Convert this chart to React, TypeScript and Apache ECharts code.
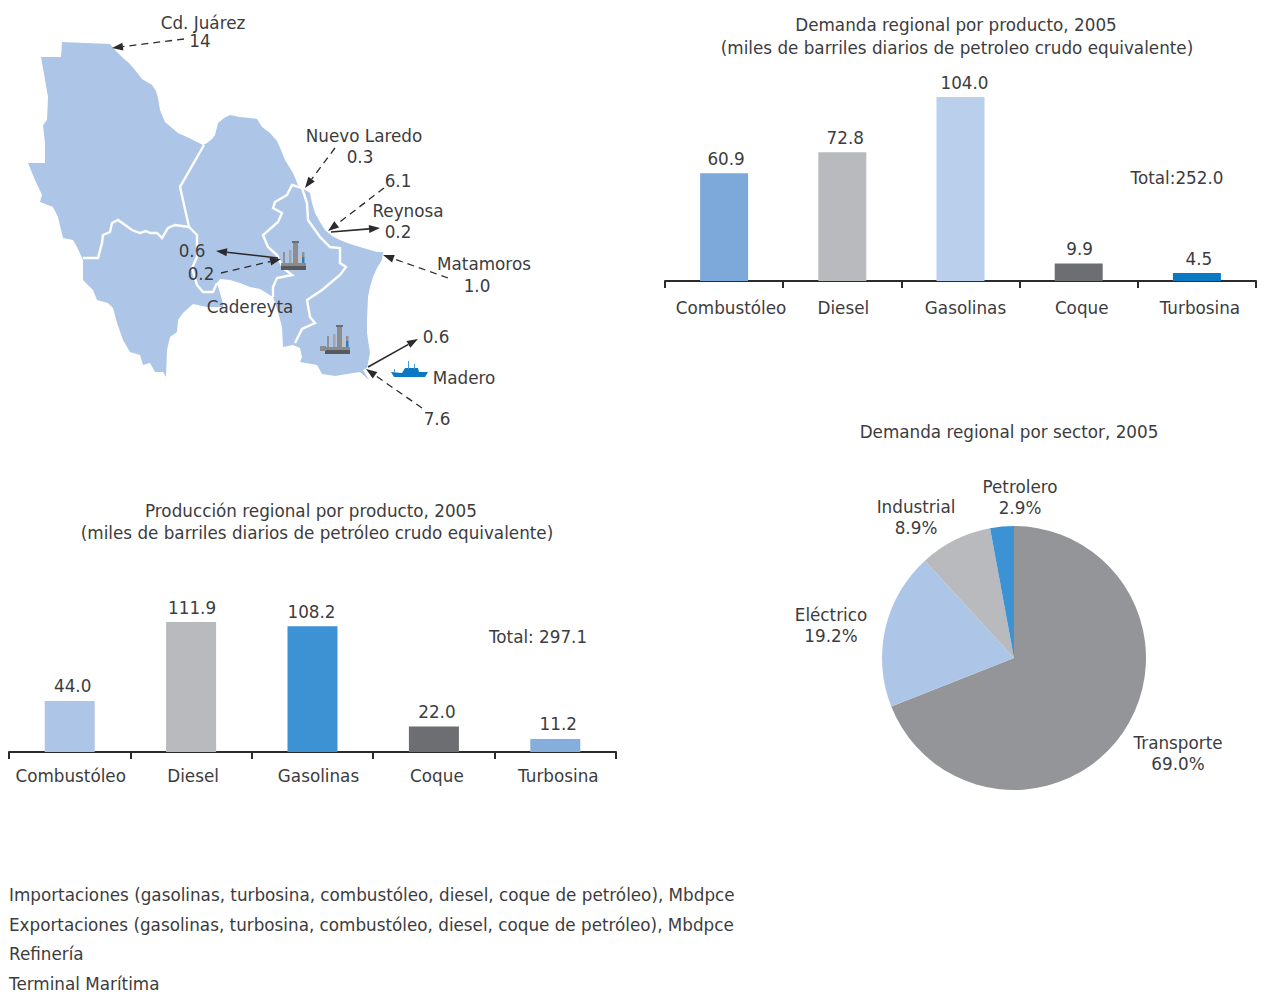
import React, { useEffect, useRef } from "react";
import * as echarts from "echarts";

const FONT = "DejaVu Sans";
const TEXT = "#3c3c3e";
const FS = 16.8;

const products = ["Combustóleo", "Diesel", "Gasolinas", "Coque", "Turbosina"];
const demandValues = [60.9, 72.8, 104.0, 9.9, 4.5];
const demandColors = ["#7da9da", "#b9babe", "#b9cfeb", "#6d6e71", "#0a78c2"];
const productionValues = [44.0, 111.9, 108.2, 22.0, 11.2];
const productionColors = ["#adc6e8", "#b9babe", "#3c92d2", "#6d6e71", "#86aedc"];
const sectors = ["Transporte", "Eléctrico", "Industrial", "Petrolero"];
const sectorValues = [69.0, 19.2, 8.9, 2.9];
const sectorColors = ["#949598", "#adc6e8", "#b9babe", "#3c92d2"];
const legendLines = [
  "Importaciones (gasolinas, turbosina, combustóleo, diesel, coque de petróleo), Mbdpce",
  "Exportaciones (gasolinas, turbosina, combustóleo, diesel, coque de petróleo), Mbdpce",
  "Refinería",
  "Terminal Marítima",
];

const mapOutline = [[62,42],[110,44],[115,50],[123,58],[129,63],[135,70],[142,79],[147,82],[152,85],[156,91],[158,98],[160,110],[165,122],[171,127],[178,133],[187,137],[203,145],[207,143],[212,139],[215,135],[218,123],[224,118],[230,115],[240,117],[250,118],[257,119],[262,127],[270,133],[277,141],[281,150],[285,160],[293,173],[298,185],[302,188],[310,193],[312,203],[315,213],[320,222],[325,230],[332,236],[340,240],[350,244],[360,247],[377,252],[383,252],[382,260],[377,268],[373,277],[370,287],[368,297],[367,320],[367,333],[370,353],[367,368],[363,370],[369,380],[360,372],[347,374],[335,376],[322,374],[317,365],[300,362],[302,357],[300,348],[293,345],[283,347],[282,327],[278,312],[273,297],[260,289],[250,287],[240,283],[230,280],[220,279],[217,283],[223,303],[223,307],[207,307],[193,304],[183,313],[178,320],[177,332],[170,337],[167,350],[166,377],[163,372],[155,372],[150,363],[143,365],[140,355],[130,352],[123,340],[117,323],[113,308],[108,303],[97,300],[93,290],[83,280],[83,260],[77,247],[73,240],[63,238],[58,217],[53,207],[40,202],[42,195],[35,180],[28,163],[45,163],[45,143],[43,125],[47,120],[48,97],[41,57],[61,57]];
const mapBorders = [
  [[204,145],[180,187],[189,227],[197,235],[197,257],[192,268],[197,285],[203,292],[213,292],[217,283]],
  [[189,227],[175,225],[168,228],[162,238],[157,233],[150,233],[146,231],[140,233],[132,230],[118,220],[112,223],[110,232],[103,235],[102,243],[98,258],[83,258]],
  [[302,188],[292,185],[287,195],[275,202],[273,208],[282,213],[278,222],[263,235],[268,247],[277,255],[283,268],[292,275],[277,278],[273,287],[273,297]],
  [[302,188],[307,203],[308,220],[320,237],[330,247],[340,248],[340,263],[346,267],[340,275],[322,290],[307,300],[310,317],[315,323],[302,329],[295,343]],
];
const arrows = [
  [184,39,112,48,1],[335,148,305,188,1],[384,188,328,231,1],[331,232,380,228,0],[448,278,383,255,1],
  [278,258,216,251,0],[221,273,281,259,1],[368,367,418,339,0],[422,408,366,369,1],
];
const mapLabels: [string, number, number][] = [
  ["Cd. Juárez",203,23],["14",200,41],["Nuevo Laredo",364,136],["0.3",360,157],["6.1",398,181],["Reynosa",408,211],["0.2",398,232],
  ["Matamoros",484,264],["1.0",477,286],["0.6",192,251],["0.2",201,274],["Cadereyta",250,307],["0.6",436,337],["Madero",464,378],["7.6",437,419],
];

function text(s: string, x: number, y: number, align = "center") {
  return { type: "text", x, y, silent: true, style: { text: s, fill: TEXT, font: `${FS}px "${FONT}"`, align, verticalAlign: "middle" } };
}
function rect(x: number, y: number, w: number, h: number, fill: string) {
  return { type: "rect", shape: { x, y, width: w, height: h }, style: { fill }, silent: true };
}
function arrow([x1, y1, x2, y2, dashed]: number[]) {
  const a = Math.atan2(y2 - y1, x2 - x1);
  const L = 11, W = 4;
  const bx = x2 - L * Math.cos(a), by = y2 - L * Math.sin(a);
  const nx = -Math.sin(a) * W, ny = Math.cos(a) * W;
  return [
    { type: "line", silent: true, shape: { x1, y1, x2: bx, y2: by }, style: { stroke: "#2b2b2d", lineWidth: dashed ? 1.3 : 1.6, lineDash: dashed ? [7, 5] : undefined } },
    { type: "polygon", silent: true, shape: { points: [[x2, y2], [bx + nx, by + ny], [bx - nx, by - ny]] }, style: { fill: "#2b2b2d" } },
  ];
}
function refinery(dx: number, dy: number, extra: boolean) {
  const out: any[] = [
    rect(283 + dx, 252 + dy, 2, 12, "#8f9094"),
    rect(289 + dx, 250 + dy, 2.5, 14, "#a3a4a8"),
    rect(293 + dx, 242 + dy, 5, 22, "#8c8d91"),
    rect(292 + dx, 241 + dy, 7, 2, "#6d6e71"),
    rect(298 + dx, 255 + dy, 4, 9, "#c3c4c7"),
    rect(302 + dx, 252 + dy, 2.5, 5, "#8f9094"),
    rect(302 + dx, 257 + dy, 2.5, 7, "#2a7fc0"),
    rect(281 + dx, 263 + dy, 25, 3, "#8a8b8e"),
    rect(281 + dx, 266 + dy, 25, 4, "#58595b"),
  ];
  if (extra) out.push(rect(276 + dx, 262 + dy, 6, 5, "#8a8b8e"));
  return out;
}

const shipFill = "#0a78c2";
const ship = [
  { type: "polygon", silent: true, shape: { points: [[391,372],[402,373],[405,368],[418,368],[419,372],[428,372],[425,377],[394,377]] }, style: { fill: shipFill } },
  rect(408, 361, 1, 8, "#4a9bd3"),
  rect(414, 364, 1, 5, "#4a9bd3"),
  rect(394, 369, 1, 4, "#4a9bd3"),
];

function barSeries(values: number[], colors: string[], idx: number, offsets: number[], width: number) {
  return {
    type: "bar", xAxisIndex: idx, yAxisIndex: idx, barWidth: width, silent: true,
    data: values.map((v, i) => ({
      value: v,
      itemStyle: { color: colors[i] },
      label: { offset: [offsets[i], 0] },
    })),
    label: { show: true, position: "top", distance: 6, color: TEXT, fontFamily: FONT, fontSize: FS, formatter: (p: any) => p.value.toFixed(1) },
  };
}
function catAxis(idx: number, pads: number[], margin: number) {
  return {
    type: "category", gridIndex: idx,
    data: products.map((p, i) => ({ value: p, textStyle: { padding: [0, 0, 0, pads[i]] } })),
    boundaryGap: true,
    axisLine: { lineStyle: { color: "#2b2b2d", width: 2 } },
    axisTick: { show: true, alignWithLabel: false, length: 7, lineStyle: { color: "#2b2b2d", width: 2 } },
    axisLabel: { color: TEXT, fontFamily: FONT, fontSize: FS, margin, interval: 0 },
  };
}
const valAxis = (idx: number, max: number) => ({ type: "value", gridIndex: idx, min: 0, max, show: false });

export default function App() {
  const ref = useRef<HTMLDivElement>(null);
  useEffect(() => {
    const chart = echarts.init(ref.current!, undefined, { renderer: "svg" });
    const labelPos = [[1178, 753], [831, 625], [916, 517], [1020, 497]];
    chart.setOption({
      animation: false,
      backgroundColor: "#fff",
      grid: [
        { left: 665, top: 97, width: 591, height: 184 },
        { left: 9, top: 622, width: 607, height: 130 },
      ],
      xAxis: [catAxis(0, [14, 2, 10, 6, 6], 18), catAxis(1, [2, 4, 12, 6, 6], 15)],
      yAxis: [valAxis(0, 104), valAxis(1, 111.9)],
      series: [
        barSeries(demandValues, demandColors, 0, [2, 3, 4, 1, 2], 48),
        barSeries(productionValues, productionColors, 1, [3, 1, -1, 3, 3], 50),
        {
          type: "pie", center: [1014, 658], radius: [0, 132], startAngle: 90, clockwise: true, silent: true,
          data: sectors.map((s, i) => ({ name: s, value: sectorValues[i], itemStyle: { color: sectorColors[i] } })),
          label: { show: true, width: 160, overflow: "none", color: TEXT, fontFamily: FONT, fontSize: FS, lineHeight: 21, align: "center", formatter: (p: any) => `${p.name}\n${p.value.toFixed(1)}%` },
          labelLine: { show: false },
          labelLayout: (p: any) => ({ x: labelPos[p.dataIndex][0], y: labelPos[p.dataIndex][1], align: "center", verticalAlign: "middle" }),
        },
      ],
      graphic: [
        { type: "polygon", silent: true, shape: { points: mapOutline }, style: { fill: "#adc6e8" } },
        ...mapBorders.map((pts) => ({ type: "polyline", silent: true, shape: { points: pts }, style: { stroke: "#fff", lineWidth: 2.4, fill: "none" } })),
        ...refinery(0, 0, false),
        ...refinery(44, 84, true),
        ...ship,
        ...arrows.flatMap(arrow),
        ...mapLabels.map(([s, x, y]) => text(s, x, y)),
        text("Demanda regional por producto, 2005", 956, 25),
        text("(miles de barriles diarios de petroleo crudo equivalente)", 957, 48),
        text("Demanda regional por sector, 2005", 1009, 432),
        text("Producción regional por producto, 2005", 311, 511),
        text("(miles de barriles diarios de petróleo crudo equivalente)", 317, 533),
        text("Total:252.0", 1177, 178),
        text("Total: 297.1", 538, 637),
        ...legendLines.map((s, i) => text(s, 9, [895, 925, 954, 984][i], "left")),
      ],
    });
    return () => chart.dispose();
  }, []);
  return <div ref={ref} style={{ position: "absolute", left: 0, top: 0, width: 1265, height: 1003 }} />;
}
